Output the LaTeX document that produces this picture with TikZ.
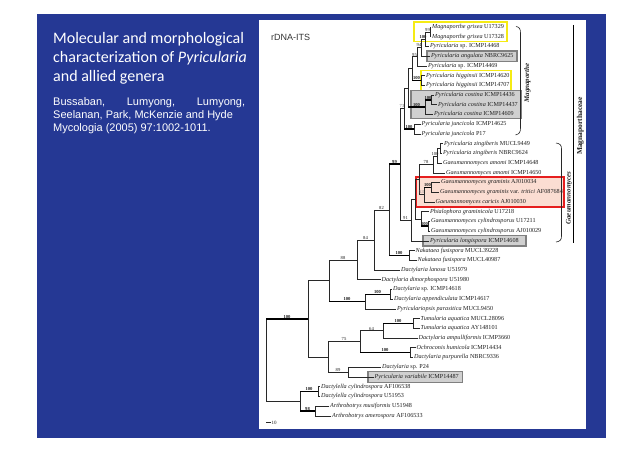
\documentclass[tikz,border=0pt]{standalone}
\usepackage{fontspec}
\setmainfont{Liberation Serif}
\newfontfamily\titlefont{Carlito}
\newfontfamily\arialfont{Liberation Sans}
\usetikzlibrary{calc}
\definecolor{slideblue}{RGB}{37,56,148}
\definecolor{boxgray}{RGB}{208,208,208}
\definecolor{boxedge}{RGB}{128,128,128}
\definecolor{hiyellow}{RGB}{245,235,20}
\definecolor{hired}{RGB}{230,30,30}
\definecolor{hipink}{RGB}{251,221,210}
\definecolor{treeline}{RGB}{40,40,40}
\definecolor{treetext}{RGB}{30,30,30}
\newcommand\bsl[4][]{\node[bs,#1] (bs-#3) at ($(#2 |- #3)!0.5!(#3)$) {#4};}
\begin{document}
\begin{tikzpicture}[x=1pt,y=-1pt,
  leaf/.style={anchor=west, inner sep=0.6pt, text height=4.3pt, text depth=1.4pt,
    font=\fontsize{6.15}{7}\selectfont, text=treetext},
  bs/.style={anchor=south, inner sep=0.3pt, yshift=0.2pt, font=\fontsize{4.6}{5}\selectfont, text=treetext},
  bsb/.style={font=\fontsize{4.6}{5}\selectfont\bfseries},
  br/.style={draw=treeline, line width=0.55pt},
  thk/.style={draw=black, line width=1.6pt},
  gbox/.style={fill=boxgray, draw=boxedge, line width=1.1pt},
  ybox/.style={draw=hiyellow, line width=1.4pt},
  rbox/.style={fill=hipink, draw=hired, line width=1.4pt},
  titl/.style={anchor=base west, inner sep=0, text=white, font=\titlefont\fontsize{16}{19}\selectfont},
  auth/.style={anchor=base west, inner sep=0, text=white, font=\arialfont\fontsize{11}{13}\selectfont},
  clade/.style={rotate=90, inner sep=0.5pt, text=treetext, font=\fontsize{7}{8}\selectfont\bfseries\itshape}
]
\useasboundingbox (0,0) rectangle (640,452);
\fill[white] (0,0) rectangle (640,452);
\fill[slideblue] (37,14) rectangle (606,437.5);
\fill[white] (259,20) rectangle (586,429);

% left text
\node[titl] (t1) at (53,43.5) {Molecular and morphological};
\node[titl] (t2) at (53,62.5) {characterization of \textit{Pyricularia}};
\node[titl] (t3) at (53,81.5) {and allied genera};
\node[auth] (a1) at (53,105) {\makebox[192pt][s]{Bussaban, Lumyong, Lumyong,}};
\node[auth] (a2) at (53,118.3) {Seelanan, Park, McKenzie and Hyde};
\node[auth] (a3) at (53,131.6) {Mycologia (2005) 97:1002-1011.};

\node[anchor=west, inner sep=0, text=black!80, font=\arialfont\fontsize{9}{10}\selectfont] (its) at (271,37.5) {rDNA-ITS};

% highlight boxes
\draw[ybox] (414,22) rectangle (507,41.5);
\draw[gbox] (427,51) rectangle (517,61.5);
\draw[ybox] (421,70.5) rectangle (511,90.3);
\draw[gbox] (411,90.8) rectangle (521,118.5);
\draw[rbox] (416,177) rectangle (564,207);
\draw[gbox] (423,235.5) rectangle (526,246);
\draw[gbox] (368,371.5) rectangle (462.5,382.5);

% leaves
\node[leaf] (l1) at (431.4,27.0) {\textit{Magnaporthe grisea} U17329};
\node[leaf] (l2) at (431.4,36.72) {\textit{Magnaporthe grisea} U17328};
\node[leaf] (l3) at (429.4,46.44) {\textit{Pyricularia} sp. ICMP14468};
\node[leaf] (l4) at (430.4,56.16) {\textit{Pyricularia angulata} NBRC9625};
\node[leaf] (l5) at (427.4,65.88) {\textit{Pyricularia} sp. ICMP14469};
\node[leaf] (l6) at (425.4,75.6) {\textit{Pyricularia higginsii} ICMP14620};
\node[leaf] (l7) at (425.4,85.32) {\textit{Pyricularia higginsii} ICMP14707};
\node[leaf] (l8) at (434.4,95.04) {\textit{Pyricularia costina} ICMP14436};
\node[leaf] (l9) at (437.4,104.76) {\textit{Pyricularia costina} ICMP14437};
\node[leaf] (l10) at (433.4,114.48) {\textit{Pyricularia costina} ICMP14609};
\node[leaf] (l11) at (420.9,124.2) {\textit{Pyricularia juncicola} ICMP14625};
\node[leaf] (l12) at (420.9,133.92) {\textit{Pyricularia juncicola} P17};
\node[leaf] (l13) at (443.4,143.64) {\textit{Pyricularia zingiberis} MUCL9449};
\node[leaf] (l14) at (442.4,153.36) {\textit{Pyricularia zingiberis} NBRC9624};
\node[leaf] (l15) at (442.4,163.08) {\textit{Gaeumannomyces amomi} ICMP14648};
\node[leaf] (l16) at (445.4,172.8) {\textit{Gaeumannomyces amomi} ICMP14650};
\node[leaf] (l17) at (440.4,182.52) {\textit{Gaeumannomyces graminis} AJ010034};
\node[leaf] (l18) at (439.4,192.24) {\textit{Gaeumannomyces graminis} var. \textit{tritici} AF087684};
\node[leaf] (l19) at (434.9,201.96) {\textit{Gaeumannomyces caricis} AJ010030};
\node[leaf] (l20) at (429.4,211.68) {\textit{Phialophora graminicola} U17218};
\node[leaf] (l21) at (430.4,221.4) {\textit{Gaeumannomyces cylindrosporus} U17211};
\node[leaf] (l22) at (430.4,231.12) {\textit{Gaeumannomyces cylindrosporus} AJ010029};
\node[leaf] (l23) at (429.4,240.84) {\textit{Pyricularia longispora} ICMP14608};
\node[leaf] (l24) at (414.9,250.56) {\textit{Nakataea fusispora} MUCL39228};
\node[leaf] (l25) at (416.9,260.28) {\textit{Nakataea fusispora} MUCL40987};
\node[leaf] (l26) at (400.4,270.0) {\textit{Dactylaria lanosa} U51979};
\node[leaf] (l27) at (380.9,279.72) {\textit{Dactylaria dimorphospora} U51980};
\node[leaf] (l28) at (392.4,289.44) {\textit{Dactylaria} sp. ICMP14618};
\node[leaf] (l29) at (393.4,299.16) {\textit{Dactylaria appendiculata} ICMP14617};
\node[leaf] (l30) at (396.4,308.88) {\textit{Pyriculariopsis parasitica} MUCL9450};
\node[leaf] (l31) at (419.9,318.6) {\textit{Tumularia aquatica} MUCL28096};
\node[leaf] (l32) at (419.9,328.32) {\textit{Tumularia aquatica} AY148101};
\node[leaf] (l33) at (417.9,338.04) {\textit{Dactylaria ampulliformis} ICMP3660};
\node[leaf] (l34) at (415.9,347.76) {\textit{Ochroconis humicola} ICMP14434};
\node[leaf] (l35) at (413.4,357.48) {\textit{Dactylaria purpurella} NBRC9336};
\node[leaf] (l36) at (381.4,367.2) {\textit{Dactylaria} sp. P24};
\node[leaf] (l37) at (373.9,376.92) {\textit{Pyricularia variabile} ICMP14487};
\node[leaf] (l38) at (320.4,386.64) {\textit{Dactylella cylindrospora} AF106538};
\node[leaf] (l39) at (320.4,396.36) {\textit{Dactylella cylindrospora} U51953};
\node[leaf] (l40) at (329.4,406.08) {\textit{Arthrobotrys musiformis} U51948};
\node[leaf] (l41) at (331.4,415.8) {\textit{Arthrobotrys amerospora} AF106533};

% internal nodes
\coordinate (P1) at (430,31.86);
\coordinate (P2) at (425,39.15);
\coordinate (P3) at (421,47.66);
\coordinate (P4) at (417,56.77);
\coordinate (Hg) at (421,80.46);
\coordinate (P5) at (412,68.62);
\coordinate (Cp) at (431,99.9);
\coordinate (Co) at (425,107.19);
\coordinate (Cm) at (408,87.9);
\coordinate (Cj) at (414,129.06);
\coordinate (C73) at (404,108.48);
\coordinate (Nz) at (440,148.5);
\coordinate (Na1) at (437,155.79);
\coordinate (Na2) at (433,164.3);
\coordinate (Ngr) at (431,187.38);
\coordinate (Ncar) at (424,194.67);
\coordinate (Nmid) at (419,179.48);
\coordinate (Ncyl) at (428,226.26);
\coordinate (Nphi) at (421,218.97);
\coordinate (Nlow) at (415,199.23);
\coordinate (C91) at (411,220.03);
\coordinate (C99) at (400,164.26);
\coordinate (Nak) at (409,255.42);
\coordinate (C82) at (389,209.84);
\coordinate (C84) at (374,239.92);
\coordinate (C88) at (357,259.82);
\coordinate (Cdac) at (390,294.3);
\coordinate (C100b) at (365,301.59);
\coordinate (U) at (329,280.7);
\coordinate (Ctum) at (413,323.46);
\coordinate (C64) at (383,330.75);
\coordinate (Coch) at (410,352.62);
\coordinate (C75) at (360,341.69);
\coordinate (C89) at (348,372.06);
\coordinate (L) at (328,356.87);
\coordinate (A) at (308,318.79);
\coordinate (Cdc) at (318,391.5);
\coordinate (Car) at (315,410.94);
\coordinate (B) at (300,401.22);
\coordinate (R) at (266,360.0);

% branches
\foreach \n/\c in {P1/l1,P1/l2,P2/l3,P3/l4,P4/l5,Hg/l6,Hg/l7,Cp/l8,Cp/l9,Co/l10,
  Cj/l11,Cj/l12,Nz/l13,Nz/l14,Na1/l15,Na2/l16,Ngr/l17,Ngr/l18,Ncar/l19,Nphi/l20,
  Ncyl/l21,Ncyl/l22,C91/l23,Nak/l24,Nak/l25,C84/l26,C88/l27,Cdac/l28,Cdac/l29,
  C100b/l30,Ctum/l31,Ctum/l32,C64/l33,Coch/l34,Coch/l35,C89/l36,C89/l37,
  Cdc/l38,Cdc/l39,Car/l40,Car/l41}
  \draw[br] (\n) |- (\c.west);
\foreach \n/\c in {P2/P1,P3/P2,P4/P3,P5/P4,P5/Hg,Co/Cp,Cm/P5,Cm/Co,C73/Cm,C73/Cj,
  Na1/Nz,Na2/Na1,Ncar/Ngr,Nmid/Na2,Nmid/Ncar,Nphi/Ncyl,Nlow/Nmid,Nlow/Nphi,
  C91/Nlow,C99/C73,C99/C91,C82/C99,C82/Nak,C84/C82,C88/C84,C100b/Cdac,U/C88,U/C100b,
  C64/Ctum,C75/C64,C75/Coch,L/C75,L/C89,A/U,A/L,B/Cdc,B/Car,R/A,R/B}
  \draw[br] (\n) |- (\c);
\foreach \n/\c in {R/A,C82/C99,C82/Nak,U/C100b,C100b/Cdac,C64/Ctum,C75/Coch,B/Cdc,B/Car,
  C73/Cj,Cm/Co,Co/Cp,Ncar/Ngr,Nphi/Ncyl,P5/Hg}
  \draw[thk] (\n |- \c) -- (\c);

% bootstrap values
\bsl{P2}{P1}{99}
\bsl[bsb]{P3}{P2}{100}
\bsl{P4}{P3}{94}
\bsl{P5}{P4}{95}
\bsl[bsb]{P5}{Hg}{100}
\bsl[bsb]{Co}{Cp}{100}
\bsl[bsb]{Cm}{Co}{100}
\bsl[bsb]{C73}{Cj}{100}
\bsl[text=black!60]{C99}{C73}{73}
\bsl[bsb]{C82}{C99}{99}
\bsl{Na2}{Na1}{100}
\bsl{Nmid}{Na2}{78}
\bsl[bsb]{Ncar}{Ngr}{100}
\bsl[text=black!50]{Nmid}{Ncar}{53}
\bsl[bsb]{Nphi}{Ncyl}{100}
\bsl{C99}{C91}{91}
\bsl[bsb]{C82}{Nak}{100}
\bsl{C84}{C82}{82}
\bsl{C88}{C84}{84}
\bsl{U}{C88}{88}
\bsl[bsb]{C100b}{Cdac}{100}
\bsl[bsb]{U}{C100b}{100}
\bsl[bsb]{R}{A}{100}
\bsl[bsb]{C64}{Ctum}{100}
\bsl{C75}{C64}{64}
\bsl[bsb]{C75}{Coch}{100}
\bsl{L}{C75}{75}
\bsl{L}{C89}{89}
\bsl[bsb]{B}{Cdc}{100}
\bsl[bsb]{B}{Car}{98}

% clade brackets and labels
\draw[br, line width=0.6pt] (516,26.5) .. controls (519.5,27) and (520.5,29) .. (520.5,33)
  -- (520.5,128) .. controls (520.5,132) and (519.5,134) .. (515.5,135);
\node[clade] (magL) at (527.5,83) {Magnaporthe};
\draw[br, line width=0.6pt] (556,143) .. controls (560.3,143.5) and (561.5,145.5) .. (561.5,149)
  -- (561.5,236) .. controls (561.5,239.5) and (560.3,241.5) .. (556,242);
\node[clade] (gaeL) at (569,198) {Gaeumannomyces};
\draw[draw=black, line width=0.9pt] (573.8,25) -- (573.8,243);
\node[rotate=90, inner sep=0.5pt, text=treetext, font=\fontsize{7.5}{8}\selectfont\bfseries] (famL) at (580.3,126) {Magnaporthaceae};

% scale bar
\coordinate (sb1) at (266,422.5);
\coordinate (sb2) at (270.5,422.5);
\draw[br] (sb1) -- (sb2);
\node[anchor=west, inner sep=1pt, text=treetext, font=\fontsize{5}{6}\selectfont] (sbl) at (sb2) {10};
\end{tikzpicture}
\end{document}
